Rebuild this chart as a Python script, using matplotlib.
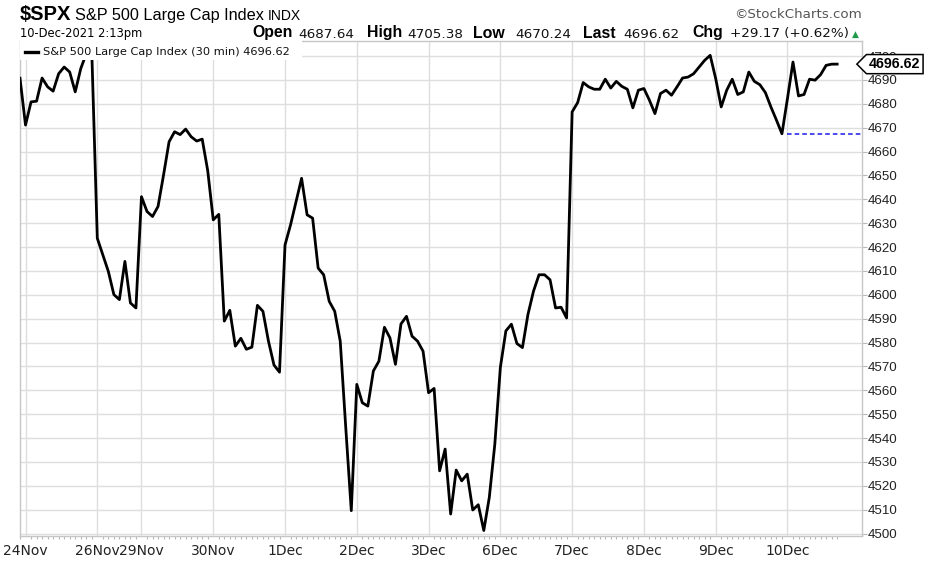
import matplotlib
matplotlib.use("Agg")
import numpy as np
import matplotlib.pyplot as plt
import matplotlib.patches as patches
from matplotlib.path import Path
from matplotlib.transforms import blended_transform_factory

# 30-minute closes, one list per session (nov23 = last bar before the window)
nov23 = [4690.7]
nov24 = [4671.1, 4680.8, 4681.1, 4690.8, 4687.1, 4685.3, 4692.6, 4695.4, 4693.3,
         4685.0, 4694.7, 4701.0, 4702.0]
nov26 = [4623.7, 4616.8, 4609.8, 4600.1, 4598.0, 4614.0, 4596.6, 4594.5]
nov29 = [4641.1, 4634.9, 4632.8, 4637.0, 4650.2, 4664.1, 4668.3, 4667.1, 4669.4,
         4666.2, 4664.4, 4665.2, 4652.0]
nov30 = [4631.4, 4633.7, 4589.0, 4593.5, 4578.5, 4581.8, 4577.2, 4578.1, 4595.6,
         4593.1, 4580.6, 4570.6, 4567.6]
dec1 = [4620.9, 4629.3, 4639.0, 4648.8, 4633.5, 4632.1, 4611.2, 4608.4, 4597.3,
        4593.1, 4580.6, 4544.4, 4509.6]
dec2 = [4562.5, 4554.8, 4553.4, 4568.1, 4572.2, 4586.4, 4582.0, 4570.9, 4587.8,
        4591.0, 4582.7, 4580.6, 4576.4]
dec3 = [4559.0, 4560.8, 4526.3, 4535.4, 4508.2, 4526.6, 4522.1, 4524.9, 4509.9,
        4512.1, 4501.3, 4515.2, 4537.5]
dec6 = [4569.6, 4584.9, 4587.7, 4579.6, 4577.9, 4591.8, 4601.5, 4608.4, 4608.4,
        4606.3, 4594.5, 4594.8, 4590.3]
dec7 = [4676.6, 4680.5, 4688.9, 4687.1, 4686.1, 4686.1, 4690.3, 4686.6, 4689.4,
        4687.3, 4686.1, 4678.3, 4685.7]
dec8 = [4686.4, 4681.5, 4675.9, 4684.3, 4685.7, 4683.6, 4687.1, 4690.8, 4691.2,
        4692.6, 4695.4, 4698.2, 4700.3]
dec9 = [4690.6, 4678.7, 4685.7, 4690.3, 4683.9, 4685.0, 4693.3, 4689.4, 4688.0,
        4684.7, 4678.7, 4673.2, 4667.45]
dec10 = [4682.2, 4697.5, 4683.3, 4683.9, 4690.3, 4689.9, 4692.2, 4696.1, 4696.6,
         4696.62]

sessions = [nov23, nov24, nov26, nov29, nov30, dec1, dec2, dec3, dec6, dec7,
            dec8, dec9, dec10]
day_labels = ["", "24Nov", "26Nov", "29Nov", "30Nov", "1Dec", "2Dec", "3Dec",
              "6Dec", "7Dec", "8Dec", "9Dec", "10Dec"]
y_ticks = list(range(4500, 4701, 10))

prev_close = 4667.45
last_price = 4696.62
quote_labels = ["Open", "High", "Low", "Last", "Chg"]
quote_values = ["4687.64", "4705.38", "4670.24", "4696.62", "+29.17 (+0.62%)"]

closes = np.concatenate(sessions)
idx = np.arange(len(closes))
day_starts = np.cumsum([0] + [len(s) for s in sessions[:-1]])

W, H = 936, 564
fig = plt.figure(figsize=(W / 100, H / 100), dpi=100)


def fx(x):
    return x / W


def fy(y):
    return 1 - y / H


ax = fig.add_axes([fx(20), 28 / H, 842 / W, 495 / H])

ax.plot(idx, closes, color="black", linewidth=2.0, solid_joinstyle="round",
        zorder=3)
ax.hlines(prev_close, day_starts[-1], 152.5, colors="#1a1aee",
          linestyles=(0, (3, 2)), linewidth=1.1, zorder=3)

ax.set_xlim(0.45, 152.5)
ax.set_ylim(4499, 4706.3)

ax.set_xticks(day_starts[1:])
ax.set_xticklabels(day_labels[1:], fontfamily="DejaVu Sans", fontsize=10,
                   color="#222222")
ax.set_xticks(idx, minor=True)
ax.set_yticks(y_ticks)
ax.set_yticklabels([str(v) for v in y_ticks], fontfamily="Liberation Sans",
                   fontsize=9.6, color="#222222")
ax.yaxis.tick_right()
ax.tick_params(axis="x", which="major", length=0, pad=5.5)
ax.tick_params(axis="x", which="minor", length=2, width=0.8, color="#b8b8b8")
ax.tick_params(axis="y", length=3.5, width=0.8, color="#b8b8b8", pad=0.8)
ax.grid(True, which="major", color="#dedede", linewidth=1)
ax.set_axisbelow(True)
for sp in ax.spines.values():
    sp.set_color("#c6c6c6")
    sp.set_linewidth(1)

# legend strip in the top-left corner
ax.add_patch(patches.Rectangle((0, 0.9616), 0.335, 0.04, transform=ax.transAxes,
                               facecolor="white", edgecolor="none", zorder=4,
                               clip_on=False))
ax.plot([5 / 842, 18 / 842], [0.978, 0.978], transform=ax.transAxes,
        color="black", linewidth=2.4, zorder=5, clip_on=False)
ax.text(23 / 842, 0.978, "S&P 500 Large Cap Index (30 min) %.2f" % last_price,
        transform=ax.transAxes, va="center", ha="left",
        fontfamily="DejaVu Sans", fontsize=8.2, color="#111111", zorder=5)


# price tag pointing at the last value
def price_tag(x0, y0, width, height, mutation_size):
    pad = 0.18 * mutation_size
    x0, y0 = x0 - pad, y0 - pad
    x1, y1 = x0 + width + 2 * pad, y0 + height + 2 * pad
    tip = 0.5 * (y1 - y0)
    return Path([(x0, y0), (x1, y0), (x1, y1), (x0, y1),
                 (x0 - tip, (y0 + y1) / 2), (x0, y0)], closed=True)


trans = blended_transform_factory(ax.transAxes, ax.transData)
ax.text(1 + 7 / 842, last_price, "%.2f" % last_price, transform=trans,
        ha="left", va="center", fontfamily="Liberation Sans",
        fontweight="bold", fontsize=10.3, color="black", zorder=6,
        clip_on=False,
        bbox=dict(boxstyle=price_tag, facecolor="white", edgecolor="black",
                  linewidth=1.1))

# header
fig.text(fx(20), fy(20), "$SPX", fontfamily="Liberation Sans",
         fontweight="bold", fontsize=14.5, va="baseline")
fig.text(fx(75), fy(20), "S&P 500 Large Cap Index", fontfamily="Liberation Sans",
         fontsize=11.7, va="baseline")
fig.text(fx(268), fy(20), "INDX", fontfamily="Liberation Sans", fontsize=10,
         va="baseline")
fig.text(fx(862), fy(18.5), "\u00a9StockCharts.com", fontfamily="DejaVu Sans",
         fontsize=9.6, color="#555555", ha="right", va="baseline")
fig.text(fx(20), fy(37.5), "10-Dec-2021 2:13pm", fontfamily="DejaVu Sans",
         fontsize=8.3, va="baseline")

label_x = [252, 367, 473, 583, 692]
value_x = [298, 407, 515, 623, 730]
for lab, val, lx, vx in zip(quote_labels, quote_values, label_x, value_x):
    fig.text(fx(lx), fy(37.5), lab, fontfamily="Liberation Sans",
             fontweight="bold", fontsize=11.4, va="baseline")
    fig.text(fx(vx), fy(37.5), val, fontfamily="DejaVu Sans",
             fontsize=9.7, va="baseline", color="#111111")
fig.text(fx(852), fy(37), "\u25b2", fontfamily="DejaVu Sans", fontsize=6.5,
         color="#1f9a4a", va="baseline")

fig.savefig("out.png", dpi=100, facecolor="white")
